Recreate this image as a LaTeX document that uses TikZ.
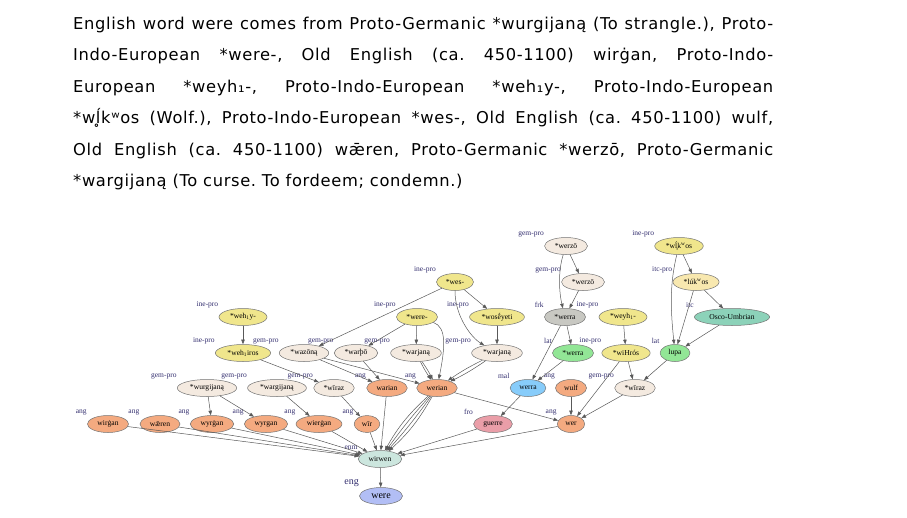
\documentclass[tikz,border=0pt]{standalone}
\usepackage{fontspec}
\setmainfont{Liberation Serif}
\newfontfamily\parafont[LetterSpace=4]{DejaVu Sans}
\usetikzlibrary{shapes.geometric, arrows.meta}

\definecolor{inepro}{RGB}{240,230,140}
\definecolor{gempro}{RGB}{244,234,224}
\definecolor{ang}{RGB}{244,170,128}
\definecolor{frk}{RGB}{200,200,194}
\definecolor{lat}{RGB}{146,230,150}
\definecolor{itcpro}{RGB}{248,232,175}
\definecolor{itc}{RGB}{140,210,185}
\definecolor{mal}{RGB}{135,204,250}
\definecolor{fro}{RGB}{234,158,168}
\definecolor{enm}{RGB}{204,230,222}
\definecolor{eng}{RGB}{178,190,245}
\definecolor{lblcol}{RGB}{50,45,110}

\tikzset{
	lem/.style={ellipse, draw=black!55, line width=0.5pt, inner xsep=4pt, inner ysep=1.2pt,
		minimum height=17pt, minimum width=25pt, font=\fontsize{7.6}{8}\selectfont},
	lng/.style={anchor=south east, inner sep=0.3pt, text=lblcol, font=\fontsize{7.5}{8}\selectfont},
	arr/.style={-{Triangle[length=4.6pt,width=3.5pt]}, draw=black!65, line width=0.5pt},
	paraline/.style={anchor=base west, inner sep=0pt, font=\parafont\fontsize{16.3}{18}\selectfont\frenchspacing},
}
\newcommand{\lablang}[2]{\node[lng] (#1-l) at (#1.west |- #1.north) {#2};}

\begin{document}
\begin{tikzpicture}[x=1pt, y=-1pt]
	\useasboundingbox (0,0) rectangle (907,517);

	\node[paraline] (par1) at (73,29) {\makebox[700pt][s]{English word were comes from Proto-Germanic *wurgijaną (To strangle.), Proto-}};
	\node[paraline] (par2) at (73,60.5) {\makebox[700pt][s]{Indo-European *were-, Old English (ca. 450-1100) wirġan, Proto-Indo-}};
	\node[paraline] (par3) at (73,92) {\makebox[700pt][s]{European *weyh₁-, Proto-Indo-European *weh₁y-, Proto-Indo-European}};
	\node[paraline] (par4) at (73,123.5) {\makebox[700pt][s]{*wĺ̥kʷos (Wolf.), Proto-Indo-European *wes-, Old English (ca. 450-1100) wulf,}};
	\node[paraline] (par5) at (73,155) {\makebox[700pt][s]{Old English (ca. 450-1100) wǣren, Proto-Germanic *werzō, Proto-Germanic}};
	\node[paraline] (par6) at (73,186.5) {*wargijaną (To curse. To fordeem; condemn.)};

	\node[lem, fill=gempro] (werzoA) at (566,246) {*werzō};
	\node[lem, fill=inepro] (wlkwos) at (679,246) {*wĺ̥k\textsuperscript{w}os};

	\node[lem, fill=inepro] (wes) at (455,282) {*wes-};
	\node[lem, fill=gempro] (werzoB) at (583,282) {*werzō};
	\node[lem, fill=itcpro] (lukwos) at (696,282) {*lúk\textsuperscript{w}os};

	\node[lem, fill=inepro] (wehy) at (243,317) {*weh\textsubscript{1}y-};
	\node[lem, fill=inepro] (weredash) at (417,317) {*were-};
	\node[lem, fill=inepro] (woseyeti) at (497,317) {*wosḗyeti};
	\node[lem, fill=frk] (werraF) at (565,317) {*werra};
	\node[lem, fill=inepro] (weyh) at (623,317) {*weyh\textsubscript{1}-};
	\node[lem, fill=itc] (osco) at (732,317) {Osco-Umbrian};

	\node[lem, fill=inepro] (wehiros) at (243,353) {*weh\textsubscript{1}iros};
	\node[lem, fill=gempro] (wazona) at (304,353) {*wazōną};
	\node[lem, fill=gempro] (warpo) at (356,353) {*warþō};
	\node[lem, fill=gempro] (warjanaA) at (416,353) {*warjaną};
	\node[lem, fill=gempro] (warjanaB) at (497,353) {*warjaną};
	\node[lem, fill=lat] (werraL) at (573,353) {*werra};
	\node[lem, fill=inepro] (wihros) at (626,353) {*wiHrós};
	\node[lem, fill=lat] (lupa) at (675,353) {lupa};

	\node[lem, fill=gempro] (wurgijana) at (207,388) {*wurgijaną};
	\node[lem, fill=gempro] (wargijana) at (277,388) {*wargijaną};
	\node[lem, fill=gempro] (wirazA) at (334,388) {*wīraz};
	\node[lem, fill=ang] (warian) at (387,388) {warian};
	\node[lem, fill=ang] (werian) at (437,388) {werian};
	\node[lem, fill=mal] (werraM) at (528,388) {werra};
	\node[lem, fill=ang] (wulf) at (571,388) {wulf};
	\node[lem, fill=gempro] (wirazB) at (635,388) {*wīraz};

	\node[lem, fill=ang] (wirgan) at (108,424) {wirġan};
	\node[lem, fill=ang] (waeren) at (160,424) {wǣren};
	\node[lem, fill=ang] (wyrgan) at (212,424) {wyrġan};
	\node[lem, fill=ang] (wyrganB) at (266,424) {wyrgan};
	\node[lem, fill=ang] (wiergan) at (319,424) {wierġan};
	\node[lem, fill=ang] (wir) at (367,424) {wīr};
	\node[lem, fill=fro] (guerre) at (493,424) {guerre};
	\node[lem, fill=ang] (wer) at (571,424) {wer};

	\node[lem, fill=enm] (wirwen) at (380,459) {wirwen};
	\node[lem, fill=eng, minimum width=43pt, font=\fontsize{10}{11}\selectfont] (werefin) at (381,496) {were};

	\lablang{werzoA}{gem-pro}
	\lablang{wlkwos}{ine-pro}
	\lablang{wes}{ine-pro}
	\lablang{werzoB}{gem-pro}
	\lablang{lukwos}{itc-pro}
	\lablang{wehy}{ine-pro}
	\lablang{weredash}{ine-pro}
	\lablang{woseyeti}{ine-pro}
	\lablang{werraF}{frk}
	\lablang{weyh}{ine-pro}
	\lablang{osco}{itc}
	\lablang{wehiros}{ine-pro}
	\lablang{wazona}{gem-pro}
	\lablang{warpo}{gem-pro}
	\lablang{warjanaA}{gem-pro}
	\lablang{warjanaB}{gem-pro}
	\lablang{werraL}{lat}
	\lablang{wihros}{ine-pro}
	\lablang{lupa}{lat}
	\lablang{wurgijana}{gem-pro}
	\lablang{wargijana}{gem-pro}
	\lablang{wirazA}{gem-pro}
	\lablang{warian}{ang}
	\lablang{werian}{ang}
	\lablang{werraM}{mal}
	\lablang{wulf}{ang}
	\lablang{wirazB}{gem-pro}
	\lablang{wirgan}{ang}
	\lablang{waeren}{ang}
	\lablang{wyrgan}{ang}
	\lablang{wyrganB}{ang}
	\lablang{wiergan}{ang}
	\lablang{wir}{ang}
	\lablang{guerre}{fro}
	\lablang{wer}{ang}
	\lablang{wirwen}{enm}
	\node[lng, font=\fontsize{10}{11}\selectfont] (werefin-l) at (werefin.west |- werefin.north) {eng};

	\draw[arr] (werzoA) -- (werzoB);
	\draw[arr] (werzoA) .. controls +(-8,25) and +(-6,-25) .. (werraF);
	\draw[arr] (werzoB) -- (werraF);
	\draw[arr] (werraF) -- (werraL);
	\draw[arr] (werraF) -- (werraM);
	\draw[arr] (werraL) -- (werraM);
	\draw[arr] (werraM) -- (guerre);
	\draw[arr] (weyh) -- (wihros);
	\draw[arr] (wihros) -- (wirazB);
	\draw[arr] (wihros) -- (wer);
	\draw[arr] (wlkwos) -- (lukwos);
	\draw[arr] (wlkwos) .. controls +(-10,40) and +(-4,-40) .. (lupa);
	\draw[arr] (lukwos) -- (osco);
	\draw[arr] (lukwos) -- (lupa);
	\draw[arr] (osco) -- (lupa);
	\draw[arr] (lupa) -- (wirazB);
	\draw[arr] (wirazB) -- (wer);
	\draw[arr] (wulf) -- (wer);
	\draw[arr] (werian) -- (wer);
	\draw[arr] (wes) -- (woseyeti);
	\draw[arr] (wes) .. controls +(0,35) and +(-25,-15) .. (warjanaB);
	\draw[arr] (wes) -- (wazona);
	\draw[arr] (weredash) -- (warpo);
	\draw[arr] (weredash) -- (warjanaA);
	\draw[arr] (weredash) .. controls +(30,10) and +(8,-40) .. (werian);
	\draw[arr] (woseyeti) -- (warjanaB);
	\draw[arr] (wehy) -- (wehiros);
	\draw[arr] (wehiros) -- (wirazA);
	\draw[arr] (wazona) -- (warian);
	\draw[arr] (wazona) -- (werian);
	\draw[arr] (warpo) -- (warian);
	\foreach \b in {-4,4} {
		\draw[arr] (warjanaA) to[bend left=\b] (werian);
		\draw[arr] (warjanaB) to[bend left=\b] (werian);
	}
	\foreach \b in {-9,-3,3,9}
		\draw[arr] (werian) to[bend left=\b] (wirwen);
	\draw[arr] (warian) -- (wirwen);
	\draw[arr] (wirazA) -- (wir);
	\draw[arr] (wargijana) -- (wiergan);
	\draw[arr] (wurgijana) -- (wyrgan);
	\draw[arr] (wurgijana) -- (wyrganB);
	\foreach \n in {wirgan, waeren, wyrgan, wyrganB, wiergan, wir, guerre, wer}
		\draw[arr] (\n) -- (wirwen);
	\draw[arr] (wirwen) -- (werefin);
\end{tikzpicture}
\end{document}
